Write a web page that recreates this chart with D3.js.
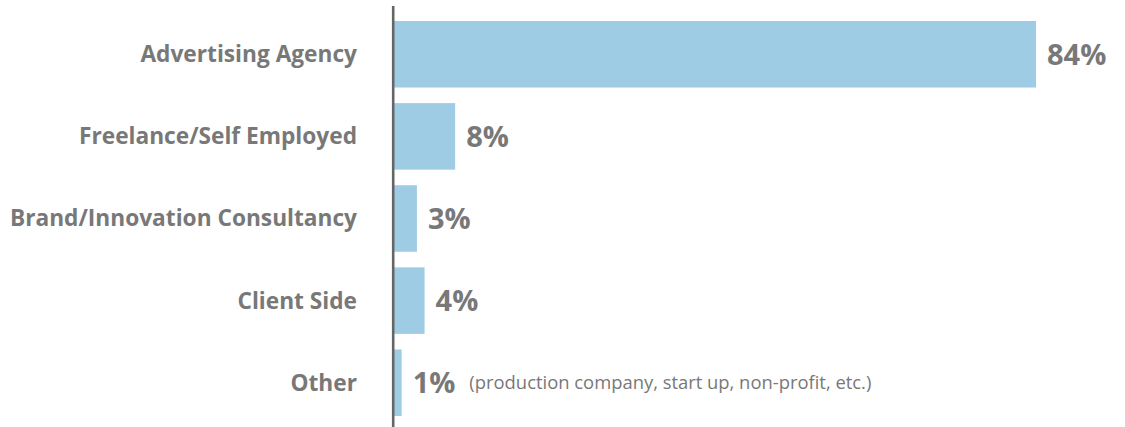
<!DOCTYPE html>
<html><head><meta charset="utf-8">
<script src="https://cdn.jsdelivr.net/npm/d3@7"></script>
<style>body{margin:0;background:#fff}</style>
</head><body>
<svg id="chart" width="1125" height="427"></svg>
<script>
const categories = ["Advertising Agency","Freelance/Self Employed","Brand/Innovation Consultancy","Client Side","Other"];
const values = [84, 8, 3, 4, 1];
const valueLabels = ["84%","8%","3%","4%","1%"];
const notes = ["","","","","(production company, start up, non-profit, etc.)"];

const svg = d3.select("#chart");
const x0 = 394;
const x = d3.scaleLinear().domain([0, 84]).range([x0, 1036]);
const y = d3.scaleBand().domain(categories).range([21, 416]).paddingInner(0.19).paddingOuter(0);
const font = "'Open Sans', sans-serif";
const grey = "#787878";

svg.selectAll("rect.bar").data(categories).join("rect")
  .attr("class","bar")
  .attr("x", x0).attr("y", d => y(d))
  .attr("width", (d,i) => x(values[i]) - x0)
  .attr("height", y.bandwidth())
  .attr("fill", "#9ecce4");

svg.append("line").attr("x1",393.2).attr("x2",393.2).attr("y1",6).attr("y2",427)
  .attr("stroke","#666").attr("stroke-width",2.6);

svg.selectAll("text.cat").data(categories).join("text")
  .attr("class","cat")
  .attr("x", 357).attr("y", d => y(d) + y.bandwidth()/2)
  .attr("dy","0.35em").attr("text-anchor","end")
  .attr("font-family", font).attr("font-weight", 700).attr("font-size", 22.7)
  .attr("fill", grey).text(d => d);

const vl = svg.selectAll("text.val").data(categories).join("text")
  .attr("class","val")
  .attr("x", (d,i) => x(values[i]) + 11).attr("y", d => y(d) + y.bandwidth()/2)
  .attr("dy","0.36em")
  .attr("font-family", font).attr("font-weight", 700).attr("font-size", 29)
  .attr("fill", grey).text((d,i) => valueLabels[i]);

vl.each(function(d,i){
  if (!notes[i]) return;
  const bb = this.getBBox();
  svg.append("text").attr("x", bb.x + bb.width + 14).attr("y", y(d) + y.bandwidth()/2)
    .attr("dy","0.35em").attr("font-family", font).attr("font-size", 18.4)
    .attr("fill", grey).text(notes[i]);
});
</script>
</body></html>
